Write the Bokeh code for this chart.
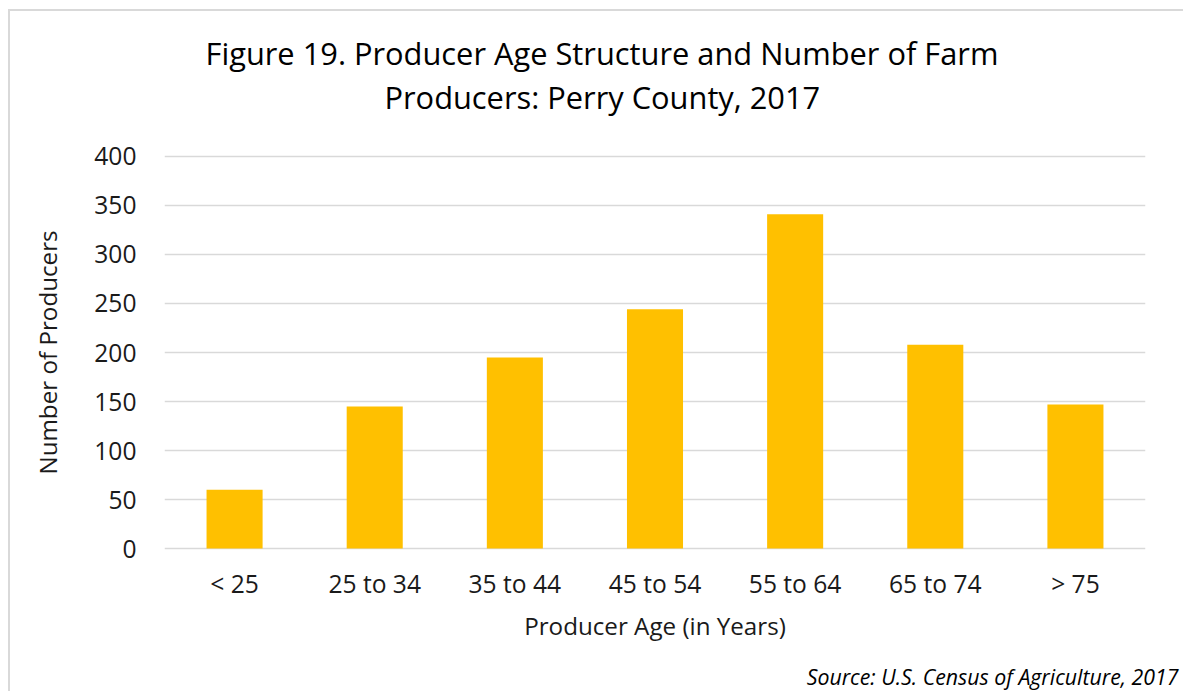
from bokeh.plotting import figure
from bokeh.models import Range1d, Title
from bokeh.embed import file_html
from bokeh.resources import INLINE

categories = ["< 25", "25 to 34", "35 to 44", "45 to 54", "55 to 64", "65 to 74", "> 75"]
producers = [60, 145, 195, 244, 341, 208, 147]
y_ticks = [0, 50, 100, 150, 200, 250, 300, 350, 400]

title_line1 = "Figure 19. Producer Age Structure and Number of Farm"
title_line2 = "Producers: Perry County, 2017"
x_label = "Producer Age (in Years)"
y_label = "Number of Producers"
source_text = "Source: U.S. Census of Agriculture, 2017"

FONT = "Open Sans"
TXT = "#1a1a1a"

p = figure(x_range=categories, y_range=Range1d(-2, 402),
           width=1175, height=682, output_backend="svg", toolbar_location=None,
           min_border_left=154, min_border_right=40, min_border_top=143, min_border_bottom=143)
p.title = None

p.vbar(x=categories, top=producers, width=0.4, fill_color="#FFC000", line_color=None)

# spacer between frame and the title lines (panels stack outward from the frame)
p.add_layout(Title(text=" ", text_font_size="1px", standoff=34), "above")
t2 = Title(text=title_line2, align="left", offset=220, standoff=0,
           text_font=FONT, text_font_size="30.8px", text_font_style="normal", text_color="#000000")
t1 = Title(text=title_line1, align="left", offset=41, standoff=0,
           text_font=FONT, text_font_size="30.8px", text_font_style="normal", text_color="#000000")
p.add_layout(t2, "above")
p.add_layout(t1, "above")

# spacer between x axis and source note
p.add_layout(Title(text=" ", text_font_size="1px", standoff=12), "below")
src = Title(text=source_text, align="right", offset=-33, standoff=0,
            text_font=FONT, text_font_size="21.3px", text_font_style="italic", text_color="#000000")
p.add_layout(src, "below")

p.xgrid.grid_line_color = None
p.ygrid.grid_line_color = "#D9D9D9"
p.ygrid.grid_line_width = 1.5
p.yaxis.ticker = y_ticks
p.outline_line_color = None

for ax in (p.xaxis[0], p.yaxis[0]):
    ax.axis_line_color = None
    ax.major_tick_line_color = None
    ax.minor_tick_line_color = None
    ax.major_label_text_font = FONT
    ax.major_label_text_font_size = "24.6px"
    ax.major_label_text_color = TXT
    ax.axis_label_text_font = FONT
    ax.axis_label_text_font_size = "24.2px"
    ax.axis_label_text_font_style = "normal"
    ax.axis_label_text_color = TXT

p.xaxis.axis_label = x_label
p.yaxis.axis_label = y_label
p.xaxis.major_label_standoff = 10
p.xaxis.axis_label_standoff = 6
p.yaxis.major_label_standoff = 22
p.yaxis.axis_label_standoff = 27

p.styles = {"border-top": "2px solid #D9D9D9", "border-left": "2px solid #D9D9D9",
            "margin-left": "8px", "margin-top": "9px"}

open("out.html", "w").write(file_html(p, INLINE))
